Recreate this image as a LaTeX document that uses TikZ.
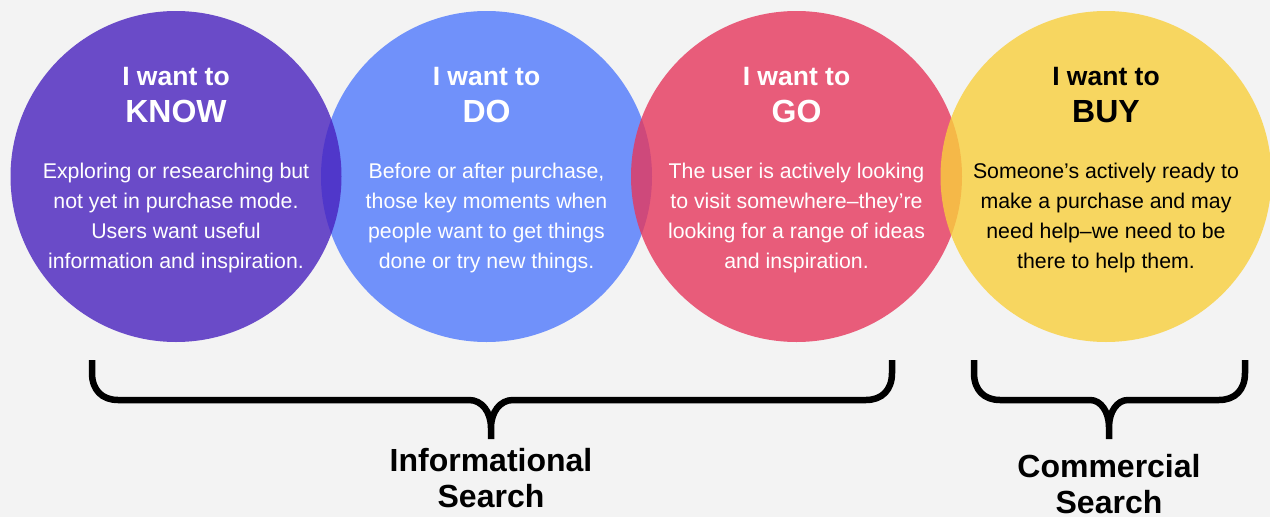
\documentclass[tikz,border=0pt]{standalone}
\usepackage{fontspec}
\setmainfont{Liberation Sans}
\usepackage{tikz}
\definecolor{bggray}{HTML}{F3F3F3}
\definecolor{knowpurple}{HTML}{4821BE}
\definecolor{doblue}{HTML}{5079FC}
\definecolor{gored}{HTML}{E6375C}
\definecolor{buyyellow}{HTML}{F9CF3C}
\tikzstyle{bubble}=[circle, minimum size=331pt, inner sep=0pt, fill opacity=0.8]
\tikzstyle{wanttext}=[inner sep=0pt, font=\fontsize{26.5}{30}\selectfont\bfseries]
\tikzstyle{bigword}=[inner sep=0pt, font=\fontsize{32}{36}\selectfont\bfseries]
\tikzstyle{bodytext}=[inner sep=0pt, align=center, font=\fontsize{21.3}{30.3}\selectfont]
\tikzstyle{bracepath}=[line width=6.5pt, line cap=butt, line join=round]
\tikzstyle{grouplabel}=[inner sep=0pt, align=center, font=\fontsize{32}{36}\selectfont\bfseries]

\begin{document}
\begin{tikzpicture}[x=1pt, y=-1pt]
  \useasboundingbox (0,0) rectangle (1270,517);
  \fill[bggray] (0,0) rectangle (1270,517);
  % circles, blue first so the purple one lies over it
  \node[bubble, fill=doblue] (do) at (486.5,176.5) {};
  \node[bubble, fill=knowpurple] (know) at (176,176.5) {};
  \node[bubble, fill=gored] (go) at (796.5,176.5) {};
  \node[bubble, fill=buyyellow] (buy) at (1106,176.5) {};
  % texts
  \node[wanttext, white] (knowT) at (176,76.5) {I want to};
  \node[bigword, white] (knowW) at (176,111.5) {KNOW};
  \node[bodytext, white] (knowB) at (176,218) {Exploring or researching but\\not yet in purchase mode.\\Users want useful\\information and inspiration.};
  \node[wanttext, white] (doT) at (486.5,76.5) {I want to};
  \node[bigword, white] (doW) at (486.5,111.5) {DO};
  \node[bodytext, white] (doB) at (486.5,218) {Before or after purchase,\\those key moments when\\people want to get things\\done or try new things.};
  \node[wanttext, white] (goT) at (796.5,76.5) {I want to};
  \node[bigword, white] (goW) at (796.5,111.5) {GO};
  \node[bodytext, white] (goB) at (796.5,218) {The user is actively looking\\to visit somewhere–they’re\\looking for a range of ideas\\and inspiration.};
  \node[wanttext, black] (buyT) at (1106,76.5) {I want to};
  \node[bigword, black] (buyW) at (1106,111.5) {BUY};
  \node[bodytext, black] (buyB) at (1106,218) {Someone’s actively ready to\\make a purchase and may\\need help–we need to be\\there to help them.};
  % braces
  \draw[bracepath] (92,360) -- (92,373) .. controls (92,390) and (102,400) .. (118,400) -- (469,400) .. controls (482,400) and (491,412) .. (491,428) -- (491,439)
                   (491,428) .. controls (491,412) and (500,400) .. (513,400) -- (866,400) .. controls (882,400) and (892,390) .. (892,373) -- (892,360);
  \draw[bracepath] (974,360) -- (974,373) .. controls (974,390) and (984,400) .. (1000,400) -- (1090,400) .. controls (1101,400) and (1109,412) .. (1109,427) -- (1109,439)
                   (1109,427) .. controls (1109,412) and (1117,400) .. (1128,400) -- (1219,400) .. controls (1235,400) and (1245,390) .. (1245,373) -- (1245,360);
  \node[grouplabel] (info) at (491,478.3) {Informational\\Search};
  \node[grouplabel] (comm) at (1109,484.3) {Commercial\\Search};
\end{tikzpicture}
\end{document}
